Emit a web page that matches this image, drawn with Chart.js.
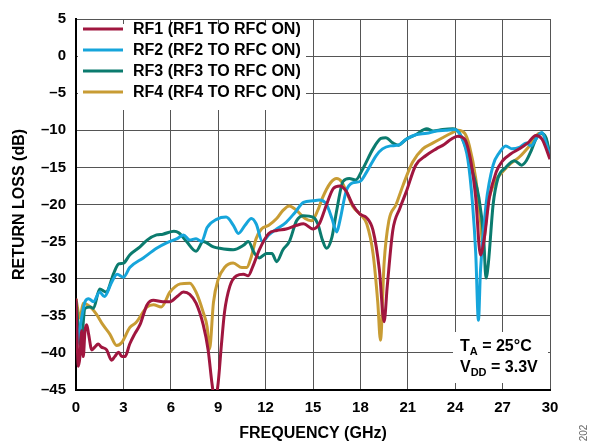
<!DOCTYPE html>
<html>
<head>
<meta charset="utf-8">
<script src="https://cdn.jsdelivr.net/npm/chart.js@4"></script>
<style>
  html, body { margin: 0; padding: 0; background: #fff; }
</style>
</head>
<body>
<canvas id="myChart" width="597" height="445"></canvas>
<script>
// Data (frequency in GHz, return loss in dB)
const rf1Freq = [0, 0.15, 0.25, 0.36, 0.46, 0.57, 0.68, 0.8, 1.0, 1.2, 1.4, 1.6, 1.94, 2.25, 2.45, 2.7, 2.9, 3.1, 3.4, 3.7, 4.05, 4.5, 4.9, 5.5, 5.95, 6.4, 6.8, 7.2, 7.6, 8.05, 8.37, 8.6, 8.8, 9.0, 9.2, 9.4, 9.74, 10.16, 10.6, 10.9, 11.2, 11.6, 12.2, 12.7, 13.3, 13.96, 14.4, 15.0, 15.4, 15.86, 16.3, 16.7, 17.1, 17.5, 17.97, 18.4, 18.8, 19.2, 19.5, 19.7, 20.05, 20.5, 20.9, 21.5, 22.15, 22.8, 23.3, 23.74, 24.16, 24.6, 25.0, 25.3, 25.6, 25.85, 26.16, 26.6, 27.0, 27.5, 28.06, 28.6, 29.1, 29.5, 30];
const rf1Loss = [-32.7, -41.8, -40.5, -37, -40.5, -37, -36.2, -37.5, -39.6, -39.2, -38.8, -39.2, -39.6, -41, -40.5, -39.9, -40.5, -40.5, -38.8, -37.5, -36.2, -33.5, -32.9, -33.1, -33.1, -32.4, -31.8, -32.1, -33.3, -36.2, -39.7, -44, -46.5, -44, -39, -34.5, -31, -29.6, -29.4, -29.6, -28.3, -26.1, -23.9, -23.5, -23.3, -22.8, -22.6, -23.3, -22.6, -20, -17.8, -17.5, -18.2, -20, -21.3, -21.8, -23.5, -28.8, -35.8, -31, -23.5, -20.5, -18.3, -14.7, -13.4, -12.5, -11.9, -11.2, -10.8, -11.2, -14.3, -19.1, -26.8, -24.4, -19.1, -15.6, -14.1, -13.2, -12.5, -11.7, -10.7, -11.2, -13.9];

const rf2Freq = [0, 0.25, 0.57, 0.8, 1.1, 1.5, 1.8, 2.25, 2.6, 3.0, 3.4, 4.26, 5.1, 5.7, 6.4, 6.8, 7.2, 7.6, 7.95, 8.3, 8.9, 9.5, 9.96, 10.27, 10.7, 11.1, 11.4, 11.8, 12.2, 12.7, 13.3, 13.85, 14.4, 15.0, 15.4, 15.86, 16.2, 16.5, 16.7, 17.1, 17.5, 17.97, 18.4, 19.0, 19.4, 19.9, 20.4, 20.9, 21.5, 22.2, 22.8, 23.4, 23.95, 24.37, 24.8, 25.1, 25.3, 25.47, 25.6, 25.95, 26.4, 26.8, 27.2, 27.6, 28.06, 28.5, 28.8, 29.1, 29.5, 29.75, 30];
const rf2Loss = [-39.6, -36.6, -33.1, -32.7, -33.1, -31.8, -32.4, -30.5, -29.4, -29.8, -28.5, -27.2, -25.9, -25.2, -24.6, -24.1, -24.8, -24.6, -25, -23.1, -22, -21.7, -22.8, -23.9, -22.8, -21.9, -22.6, -25, -24.1, -23.3, -22.4, -21.1, -19.7, -19.5, -19.4, -20, -21.9, -23.7, -22.2, -18.2, -17.1, -16.9, -15.6, -13.4, -12.5, -12.1, -12, -11.2, -10.6, -10.4, -10.1, -10, -9.9, -10.8, -13.9, -20, -26.6, -35.6, -28.9, -20, -14.7, -13, -12.1, -12.5, -12.3, -11.7, -12.1, -11.2, -10.3, -11.7, -13.4];

const rf3Freq = [0, 0.3, 0.57, 0.9, 1.1, 1.5, 1.9, 2.4, 2.7, 3.0, 3.4, 4.05, 4.5, 5.1, 5.5, 6.2, 6.5, 7.0, 7.6, 8.05, 8.7, 9.1, 9.95, 10.6, 10.9, 11.3, 11.6, 12.06, 12.4, 12.7, 13.1, 13.5, 13.96, 14.4, 15.0, 15.3, 15.6, 15.86, 16.2, 16.5, 16.9, 17.3, 17.7, 18.15, 18.8, 19.3, 19.6, 20.05, 20.4, 20.9, 21.5, 22.2, 22.6, 23.2, 23.85, 24.27, 24.7, 25.1, 25.5, 25.8, 25.95, 26.1, 26.4, 26.7, 27.2, 27.75, 28.2, 28.5, 28.8, 29.1, 29.4, 29.75, 30];
const rf3Loss = [-33, -39, -34, -33.8, -34, -31.4, -31.8, -29.2, -28, -27.9, -26.8, -25.7, -24.8, -24.1, -24, -23.6, -23.8, -25, -26.3, -25, -25.7, -25.9, -26.1, -25.5, -25, -26.6, -27.2, -26.6, -26.6, -27.7, -26.1, -25, -22.2, -21.5, -21.7, -22.6, -24.8, -25.9, -24.4, -20.8, -16.9, -16.5, -16.7, -15.2, -12.5, -11.1, -11, -11.7, -12, -11.2, -10.6, -9.8, -10.1, -9.9, -9.8, -10.4, -12.5, -15.6, -19.1, -24.4, -29.9, -27.9, -20, -16.5, -15, -14.1, -14.7, -14.1, -12.8, -11.2, -10.4, -11, -13.4];

const rf4Freq = [0, 0.25, 0.46, 0.9, 1.3, 1.7, 2.15, 2.57, 2.9, 3.4, 3.8, 4.5, 4.9, 5.4, 5.95, 6.6, 7.2, 7.6, 8.05, 8.3, 8.45, 8.7, 9.0, 9.4, 9.95, 10.5, 10.8, 11.1, 11.4, 11.74, 12.2, 12.7, 13.1, 13.5, 13.96, 14.5, 14.9, 15.3, 15.6, 16.1, 16.5, 16.8, 17.1, 17.5, 18.07, 18.4, 18.8, 19.1, 19.27, 19.5, 19.8, 20.26, 20.7, 21.3, 21.95, 22.6, 23.2, 23.74, 24.16, 24.6, 24.9, 25.3, 25.6, 25.75, 26.06, 26.5, 27.0, 27.5, 28.06, 28.7, 29.33, 29.75, 30];
const rf4Loss = [-32.7, -35.3, -33.3, -33.8, -34.8, -36.2, -37.5, -39, -38.6, -36.6, -35.9, -33.8, -33.5, -33.8, -31.8, -30.7, -30.6, -31.8, -34.5, -36.5, -39.5, -33.2, -30.1, -28.5, -27.9, -28.5, -28.5, -27, -24.6, -23.3, -22.8, -21.9, -20.8, -20.2, -20.8, -21.9, -22.2, -20.8, -19.1, -17.1, -16.5, -16.9, -18.2, -20.2, -21.5, -22.6, -26.6, -33.2, -38.3, -27.9, -22.2, -20, -17.4, -14.3, -12.5, -11.7, -11, -10.4, -10, -10.4, -12.1, -16.5, -22.2, -25.5, -20, -17, -15.6, -14.5, -13.6, -12.1, -10.4, -11.2, -13.4];

const seriesLabels = ['RF1 (RF1 TO RFC ON)', 'RF2 (RF2 TO RFC ON)', 'RF3 (RF3 TO RFC ON)', 'RF4 (RF4 TO RFC ON)'];
const xTicks = [0, 3, 6, 9, 12, 15, 18, 21, 24, 27, 30];
const yTicks = [5, 0, -5, -10, -15, -20, -25, -30, -35, -40, -45];

const colors = ['#A0163F', '#16A5DB', '#0B7B6E', '#C89C34'];
const FONT = '"Liberation Sans", Arial, Helvetica, sans-serif';

function toPoints(xs, ys) {
    return xs.map((x, i) => ({ x: x, y: ys[i] }));
}

const allSeries = [
    toPoints(rf1Freq, rf1Loss),
    toPoints(rf2Freq, rf2Loss),
    toPoints(rf3Freq, rf3Loss),
    toPoints(rf4Freq, rf4Loss)
];

Chart.defaults.font.family = FONT;
Chart.defaults.font.size = 15;
Chart.defaults.font.weight = 'bold';
Chart.defaults.color = '#000';

// White boxes for legend and conditions note, drawn over the grid
const boxesPlugin = {
    id: 'boxes',
    beforeDatasetsDraw(chart) {
        const ctx = chart.ctx;
        const a = chart.chartArea;
        ctx.save();
        ctx.fillStyle = '#fff';
        ctx.fillRect(a.left + 2, a.top + 5, 228, 86);
        ctx.fillRect(453, 332, a.right - 2 - 453, 383 - 332);
        ctx.restore();
    },
    afterDraw(chart) {
        const ctx = chart.ctx;
        ctx.save();
        // legend
        ctx.textBaseline = 'middle';
        ctx.font = 'bold 16px ' + FONT;
        chart.data.datasets.forEach((ds, i) => {
            const y = 29 + i * 21;
            ctx.strokeStyle = ds.borderColor;
            ctx.lineWidth = 3;
            ctx.beginPath();
            ctx.moveTo(83, y);
            ctx.lineTo(123, y);
            ctx.stroke();
            ctx.fillStyle = '#000';
            ctx.fillText(ds.label, 133, y + 1);
        });

        // conditions note
        ctx.textBaseline = 'alphabetic';
        let x = 460;
        ctx.font = 'bold 16px ' + FONT;
        ctx.fillText('T', x, 351);
        x += ctx.measureText('T').width;
        ctx.font = 'bold 11px ' + FONT;
        ctx.fillText('A', x, 355);
        x += ctx.measureText('A').width;
        ctx.font = 'bold 16px ' + FONT;
        ctx.fillText(' = 25°C', x, 351);

        x = 460;
        ctx.fillText('V', x, 372);
        x += ctx.measureText('V').width;
        ctx.font = 'bold 11px ' + FONT;
        ctx.fillText('DD', x, 376);
        x += ctx.measureText('DD').width;
        ctx.font = 'bold 16px ' + FONT;
        ctx.fillText(' = 3.3V', x, 372);

        // figure number
        ctx.translate(587, 433);
        ctx.rotate(-Math.PI / 2);
        ctx.font = '10px ' + FONT;
        ctx.fillStyle = '#666';
        ctx.textAlign = 'center';
        ctx.fillText('202', 0, 0);
        ctx.restore();
    }
};

const ctx = document.getElementById('myChart').getContext('2d');
const myChart = new Chart(ctx, {
    type: 'line',
    data: {
        datasets: allSeries.map((pts, i) => ({
            label: seriesLabels[i],
            data: pts,
            borderColor: colors[i],
            borderWidth: 3,
            pointRadius: 0,
            fill: false,
            cubicInterpolationMode: 'monotone'
        }))
    },
    options: {
        responsive: false,
        animation: false,
        layout: { padding: { top: 11, right: 47, left: 0, bottom: 0 } },
        plugins: {
            legend: { display: false },
            tooltip: { enabled: false }
        },
        scales: {
            x: {
                type: 'linear',
                min: 0,
                max: 30,
                afterBuildTicks: (s) => { s.ticks = xTicks.map(v => ({ value: v })); },
                afterFit: (s) => { s.height = 55; },
                grid: { color: '#555', lineWidth: 1, drawTicks: false },
                border: { color: '#000', width: 2 },
                ticks: { padding: 9, maxRotation: 0, font: { size: 15, weight: 'bold' } },
                title: {
                    display: true,
                    text: 'FREQUENCY (GHz)',
                    font: { size: 16, weight: 'bold' },
                    padding: { top: 0, bottom: 2 }
                }
            },
            y: {
                min: -45,
                max: 5,
                afterBuildTicks: (s) => { s.ticks = yTicks.map(v => ({ value: v })); },
                afterFit: (s) => { s.width = 76; },
                grid: { color: '#555', lineWidth: 1, drawTicks: false },
                border: { color: '#000', width: 2 },
                ticks: {
                    padding: 10,
                    font: { size: 15, weight: 'bold' },
                    callback: (v) => v < 0 ? '\u2013' + Math.abs(v) : String(v)
                },
                title: {
                    display: true,
                    text: 'RETURN LOSS (dB)',
                    font: { size: 16, weight: 'bold' },
                    padding: { top: 10, bottom: 0 }
                }
            }
        }
    },
    plugins: [boxesPlugin]
});
</script>
</body>
</html>
